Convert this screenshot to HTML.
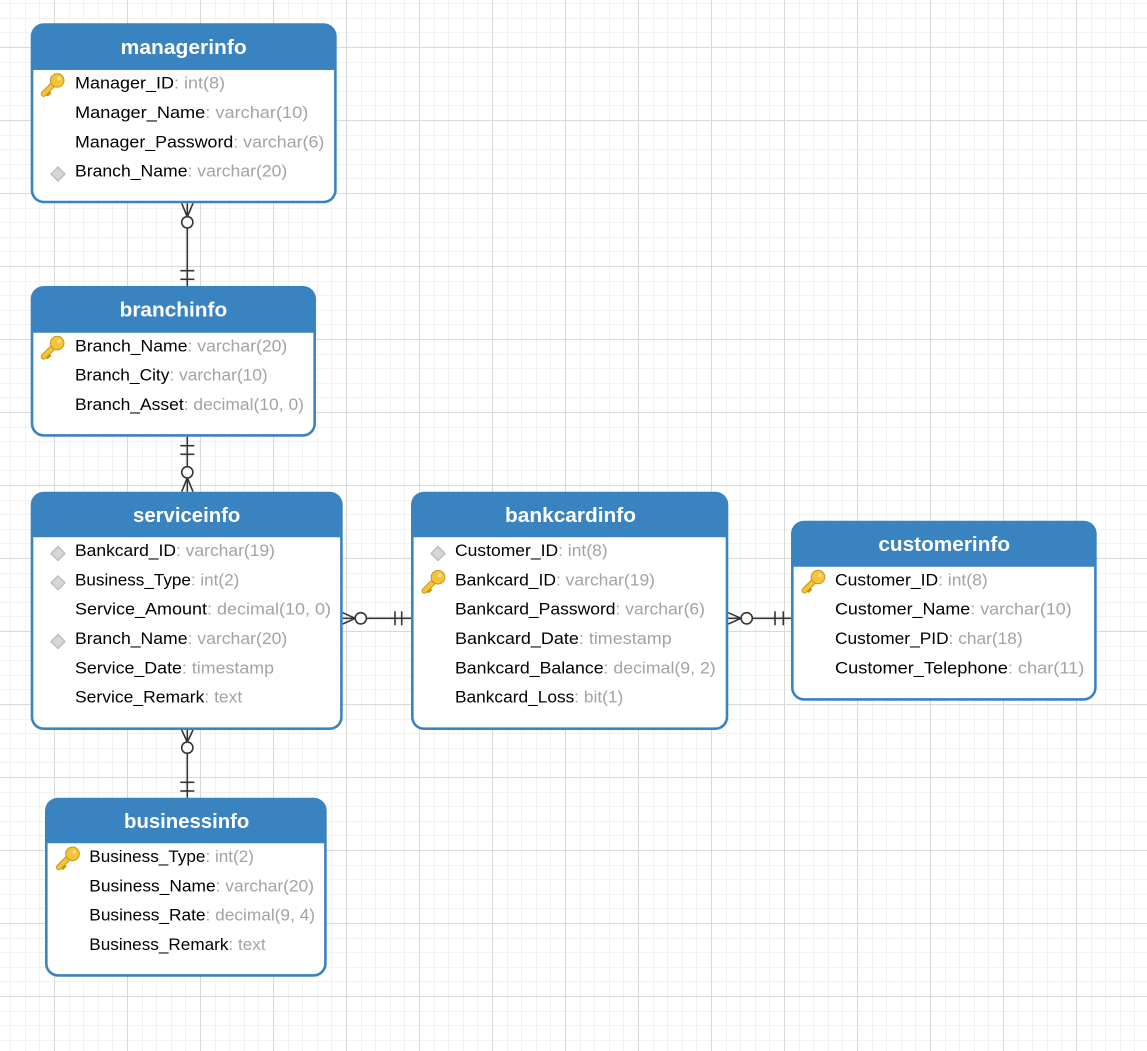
<!DOCTYPE html>
<html>
<head>
<meta charset="utf-8">
<style>
html,body{margin:0;padding:0;background:#fff;}
svg{display:block;}
.t{font-family:"Liberation Sans",Arial,sans-serif;font-size:20px;font-weight:bold;fill:#fff;}
.r{font-family:"Liberation Sans",Arial,sans-serif;font-size:17px;fill:#000;}
.ty{fill:#a3a3a3;}
</style>
</head>
<body>
<svg width="1147" height="1051" viewBox="0 0 1147 1051" xmlns="http://www.w3.org/2000/svg">
<defs>
<pattern id="grid" x="54" y="47" width="73" height="73" patternUnits="userSpaceOnUse">
  <rect x="15" y="0" width="1" height="73" fill="#f2f2f2"/>
  <rect x="29" y="0" width="1" height="73" fill="#f2f2f2"/>
  <rect x="44" y="0" width="1" height="73" fill="#f2f2f2"/>
  <rect x="58" y="0" width="1" height="73" fill="#f2f2f2"/>
  <rect x="0" y="15" width="73" height="1" fill="#f2f2f2"/>
  <rect x="0" y="29" width="73" height="1" fill="#f2f2f2"/>
  <rect x="0" y="44" width="73" height="1" fill="#f2f2f2"/>
  <rect x="0" y="58" width="73" height="1" fill="#f2f2f2"/>
  <rect x="0" y="0" width="1" height="73" fill="#d9d9d9"/>
  <rect x="0" y="0" width="73" height="1" fill="#d9d9d9"/>
</pattern>
<g id="key">
  <line x1="1.5" y1="-1.5" x2="-9" y2="9" stroke="#c99511" stroke-width="6" stroke-linecap="round"/>
  <path d="M-5.5,5.5 L-3,8 L-5,10" fill="none" stroke="#c99511" stroke-width="2.6" stroke-linecap="round"/>
  <line x1="1.5" y1="-1.5" x2="-9" y2="9" stroke="#f5c33a" stroke-width="4" stroke-linecap="round"/>
  <circle cx="4.5" cy="-4.5" r="6.8" fill="#f5c33a" stroke="#c99511" stroke-width="1"/>
  <circle cx="6.3" cy="-6.3" r="1.8" fill="#fde596"/>
</g>
<g id="dia">
  <path d="M0,-7 L7,0 L0,7 L-7,0 Z" fill="#d6d6d6" stroke="#bcbcbc" stroke-width="1.3" stroke-linejoin="round"/>
</g>
</defs>

<rect x="0" y="0" width="1147" height="1051" fill="#fff"/>
<rect x="0" y="0" width="1147" height="1051" fill="url(#grid)"/>

<!-- connectors -->
<g stroke="#353535" stroke-width="1.6" fill="none">
  <!-- manager -> branch -->
  <line x1="187.3" y1="203.3" x2="187.3" y2="286"/>
  <line x1="181.7" y1="203.3" x2="187.3" y2="216.8"/>
  <line x1="193" y1="203.3" x2="187.3" y2="216.8"/>
  <circle cx="187.3" cy="222.3" r="5.6" fill="#fff"/>
  <line x1="180.3" y1="270.7" x2="194.3" y2="270.7"/>
  <line x1="180.3" y1="279.3" x2="194.3" y2="279.3"/>
  <!-- branch -> service -->
  <line x1="187.3" y1="436.7" x2="187.3" y2="491.7"/>
  <line x1="180.3" y1="445.7" x2="194.3" y2="445.7"/>
  <line x1="180.3" y1="454.3" x2="194.3" y2="454.3"/>
  <line x1="187.3" y1="477.8" x2="181.7" y2="491.7"/>
  <line x1="187.3" y1="477.8" x2="193" y2="491.7"/>
  <circle cx="187.3" cy="472.3" r="5.6" fill="#fff"/>
  <!-- service -> business -->
  <line x1="187.3" y1="730" x2="187.3" y2="797.7"/>
  <line x1="181.7" y1="730" x2="187.3" y2="742.2"/>
  <line x1="193" y1="730" x2="187.3" y2="742.2"/>
  <circle cx="187.3" cy="747.7" r="5.6" fill="#fff"/>
  <line x1="180.3" y1="782.3" x2="194.3" y2="782.3"/>
  <line x1="180.3" y1="791" x2="194.3" y2="791"/>
  <!-- service -> bankcard -->
  <line x1="342.7" y1="618.3" x2="411" y2="618.3"/>
  <line x1="342.7" y1="612.7" x2="355.2" y2="618.3"/>
  <line x1="342.7" y1="624" x2="355.2" y2="618.3"/>
  <circle cx="360.8" cy="618.3" r="5.6" fill="#fff"/>
  <line x1="395" y1="611.3" x2="395" y2="625.3"/>
  <line x1="401.7" y1="611.3" x2="401.7" y2="625.3"/>
  <!-- bankcard -> customer -->
  <line x1="728.3" y1="618.3" x2="791" y2="618.3"/>
  <line x1="728.3" y1="612.7" x2="741" y2="618.3"/>
  <line x1="728.3" y1="624" x2="741" y2="618.3"/>
  <circle cx="746.7" cy="618.3" r="5.6" fill="#fff"/>
  <line x1="775" y1="611.3" x2="775" y2="625.3"/>
  <line x1="783.3" y1="611.3" x2="783.3" y2="625.3"/>
</g>

<!-- managerinfo -->
<rect x="30.7" y="23.3" width="306" height="180" rx="13" fill="#3a83c1"/>
<path d="M33.3,70 H334.1 V190.3 A10.4,10.4 0 0 1 323.7,200.7 H43.7 A10.4,10.4 0 0 1 33.3,190.3 Z" fill="#fff"/>
<text class="t" x="183.7" y="53.8" text-anchor="middle" textLength="126" lengthAdjust="spacingAndGlyphs">managerinfo</text>
<use href="#key" x="52.7" y="84.9"/>
<use href="#dia" x="58" y="174"/>
<text class="r" x="75" y="88.7" textLength="150" lengthAdjust="spacingAndGlyphs">Manager_ID<tspan class="ty">: int(8)</tspan></text>
<text class="r" x="75" y="118" textLength="233.3" lengthAdjust="spacingAndGlyphs">Manager_Name<tspan class="ty">: varchar(10)</tspan></text>
<text class="r" x="75" y="147.3" textLength="249.3" lengthAdjust="spacingAndGlyphs">Manager_Password<tspan class="ty">: varchar(6)</tspan></text>
<text class="r" x="75" y="176.7" textLength="212.3" lengthAdjust="spacingAndGlyphs">Branch_Name<tspan class="ty">: varchar(20)</tspan></text>

<!-- branchinfo -->
<rect x="30.7" y="286" width="285.3" height="150.7" rx="13" fill="#3a83c1"/>
<path d="M33.3,332.7 H313.4 V423.7 A10.4,10.4 0 0 1 303,434.1 H43.7 A10.4,10.4 0 0 1 33.3,423.7 Z" fill="#fff"/>
<text class="t" x="173.4" y="316.6" text-anchor="middle" textLength="107.6" lengthAdjust="spacingAndGlyphs">branchinfo</text>
<use href="#key" x="52.7" y="347.6"/>
<text class="r" x="75" y="351.4" textLength="212.3" lengthAdjust="spacingAndGlyphs">Branch_Name<tspan class="ty">: varchar(20)</tspan></text>
<text class="r" x="75" y="380.7" textLength="192.7" lengthAdjust="spacingAndGlyphs">Branch_City<tspan class="ty">: varchar(10)</tspan></text>
<text class="r" x="75" y="410" textLength="229" lengthAdjust="spacingAndGlyphs">Branch_Asset<tspan class="ty">: decimal(10, 0)</tspan></text>

<!-- serviceinfo -->
<rect x="30.7" y="491.7" width="312" height="238.3" rx="13" fill="#3a83c1"/>
<path d="M33.3,537.3 H340.1 V717 A10.4,10.4 0 0 1 329.7,727.4 H43.7 A10.4,10.4 0 0 1 33.3,717 Z" fill="#fff"/>
<text class="t" x="186.7" y="522.2" text-anchor="middle" textLength="107.3" lengthAdjust="spacingAndGlyphs">serviceinfo</text>
<use href="#dia" x="58" y="553.5"/>
<use href="#dia" x="58" y="582.8"/>
<use href="#dia" x="58" y="641.5"/>
<text class="r" x="75" y="556" textLength="200" lengthAdjust="spacingAndGlyphs">Bankcard_ID<tspan class="ty">: varchar(19)</tspan></text>
<text class="r" x="75" y="585.3" textLength="164.3" lengthAdjust="spacingAndGlyphs">Business_Type<tspan class="ty">: int(2)</tspan></text>
<text class="r" x="75" y="614.6" textLength="256" lengthAdjust="spacingAndGlyphs">Service_Amount<tspan class="ty">: decimal(10, 0)</tspan></text>
<text class="r" x="75" y="644" textLength="212.3" lengthAdjust="spacingAndGlyphs">Branch_Name<tspan class="ty">: varchar(20)</tspan></text>
<text class="r" x="75" y="673.3" textLength="199" lengthAdjust="spacingAndGlyphs">Service_Date<tspan class="ty">: timestamp</tspan></text>
<text class="r" x="75" y="702.6" textLength="167.3" lengthAdjust="spacingAndGlyphs">Service_Remark<tspan class="ty">: text</tspan></text>

<!-- bankcardinfo -->
<rect x="411" y="491.7" width="317.3" height="238.3" rx="13" fill="#3a83c1"/>
<path d="M413.6,537.3 H725.7 V717 A10.4,10.4 0 0 1 715.3,727.4 H424 A10.4,10.4 0 0 1 413.6,717 Z" fill="#fff"/>
<text class="t" x="570.5" y="522.2" text-anchor="middle" textLength="131" lengthAdjust="spacingAndGlyphs">bankcardinfo</text>
<use href="#dia" x="438" y="553.5"/>
<use href="#key" x="433.5" y="581.7"/>
<text class="r" x="455" y="556" textLength="152.7" lengthAdjust="spacingAndGlyphs">Customer_ID<tspan class="ty">: int(8)</tspan></text>
<text class="r" x="455" y="585.3" textLength="200" lengthAdjust="spacingAndGlyphs">Bankcard_ID<tspan class="ty">: varchar(19)</tspan></text>
<text class="r" x="455" y="614.6" textLength="250" lengthAdjust="spacingAndGlyphs">Bankcard_Password<tspan class="ty">: varchar(6)</tspan></text>
<text class="r" x="455" y="644" textLength="216.7" lengthAdjust="spacingAndGlyphs">Bankcard_Date<tspan class="ty">: timestamp</tspan></text>
<text class="r" x="455" y="673.3" textLength="260.7" lengthAdjust="spacingAndGlyphs">Bankcard_Balance<tspan class="ty">: decimal(9, 2)</tspan></text>
<text class="r" x="455" y="702.6" textLength="168.3" lengthAdjust="spacingAndGlyphs">Bankcard_Loss<tspan class="ty">: bit(1)</tspan></text>

<!-- customerinfo -->
<rect x="791" y="520.7" width="305.7" height="180" rx="13" fill="#3a83c1"/>
<path d="M793.6,566.7 H1094.1 V687.7 A10.4,10.4 0 0 1 1083.7,698.1 H804 A10.4,10.4 0 0 1 793.6,687.7 Z" fill="#fff"/>
<text class="t" x="944.2" y="551.2" text-anchor="middle" textLength="131.7" lengthAdjust="spacingAndGlyphs">customerinfo</text>
<use href="#key" x="813.5" y="581.5"/>
<text class="r" x="835" y="585.4" textLength="152.7" lengthAdjust="spacingAndGlyphs">Customer_ID<tspan class="ty">: int(8)</tspan></text>
<text class="r" x="835" y="614.7" textLength="236.7" lengthAdjust="spacingAndGlyphs">Customer_Name<tspan class="ty">: varchar(10)</tspan></text>
<text class="r" x="835" y="644" textLength="187.7" lengthAdjust="spacingAndGlyphs">Customer_PID<tspan class="ty">: char(18)</tspan></text>
<text class="r" x="835" y="673.4" textLength="249.3" lengthAdjust="spacingAndGlyphs">Customer_Telephone<tspan class="ty">: char(11)</tspan></text>

<!-- businessinfo -->
<rect x="45" y="797.7" width="281.7" height="179" rx="13" fill="#3a83c1"/>
<path d="M47.6,843.3 H324.1 V963.7 A10.4,10.4 0 0 1 313.7,974.1 H58 A10.4,10.4 0 0 1 47.6,963.7 Z" fill="#fff"/>
<text class="t" x="186.7" y="828.2" text-anchor="middle" textLength="125.3" lengthAdjust="spacingAndGlyphs">businessinfo</text>
<use href="#key" x="68" y="858.3"/>
<text class="r" x="89.3" y="862" textLength="164.7" lengthAdjust="spacingAndGlyphs">Business_Type<tspan class="ty">: int(2)</tspan></text>
<text class="r" x="89.3" y="891.3" textLength="224.7" lengthAdjust="spacingAndGlyphs">Business_Name<tspan class="ty">: varchar(20)</tspan></text>
<text class="r" x="89.3" y="920.6" textLength="225.7" lengthAdjust="spacingAndGlyphs">Business_Rate<tspan class="ty">: decimal(9, 4)</tspan></text>
<text class="r" x="89.3" y="950" textLength="176.3" lengthAdjust="spacingAndGlyphs">Business_Remark<tspan class="ty">: text</tspan></text>
</svg>
</body>
</html>
